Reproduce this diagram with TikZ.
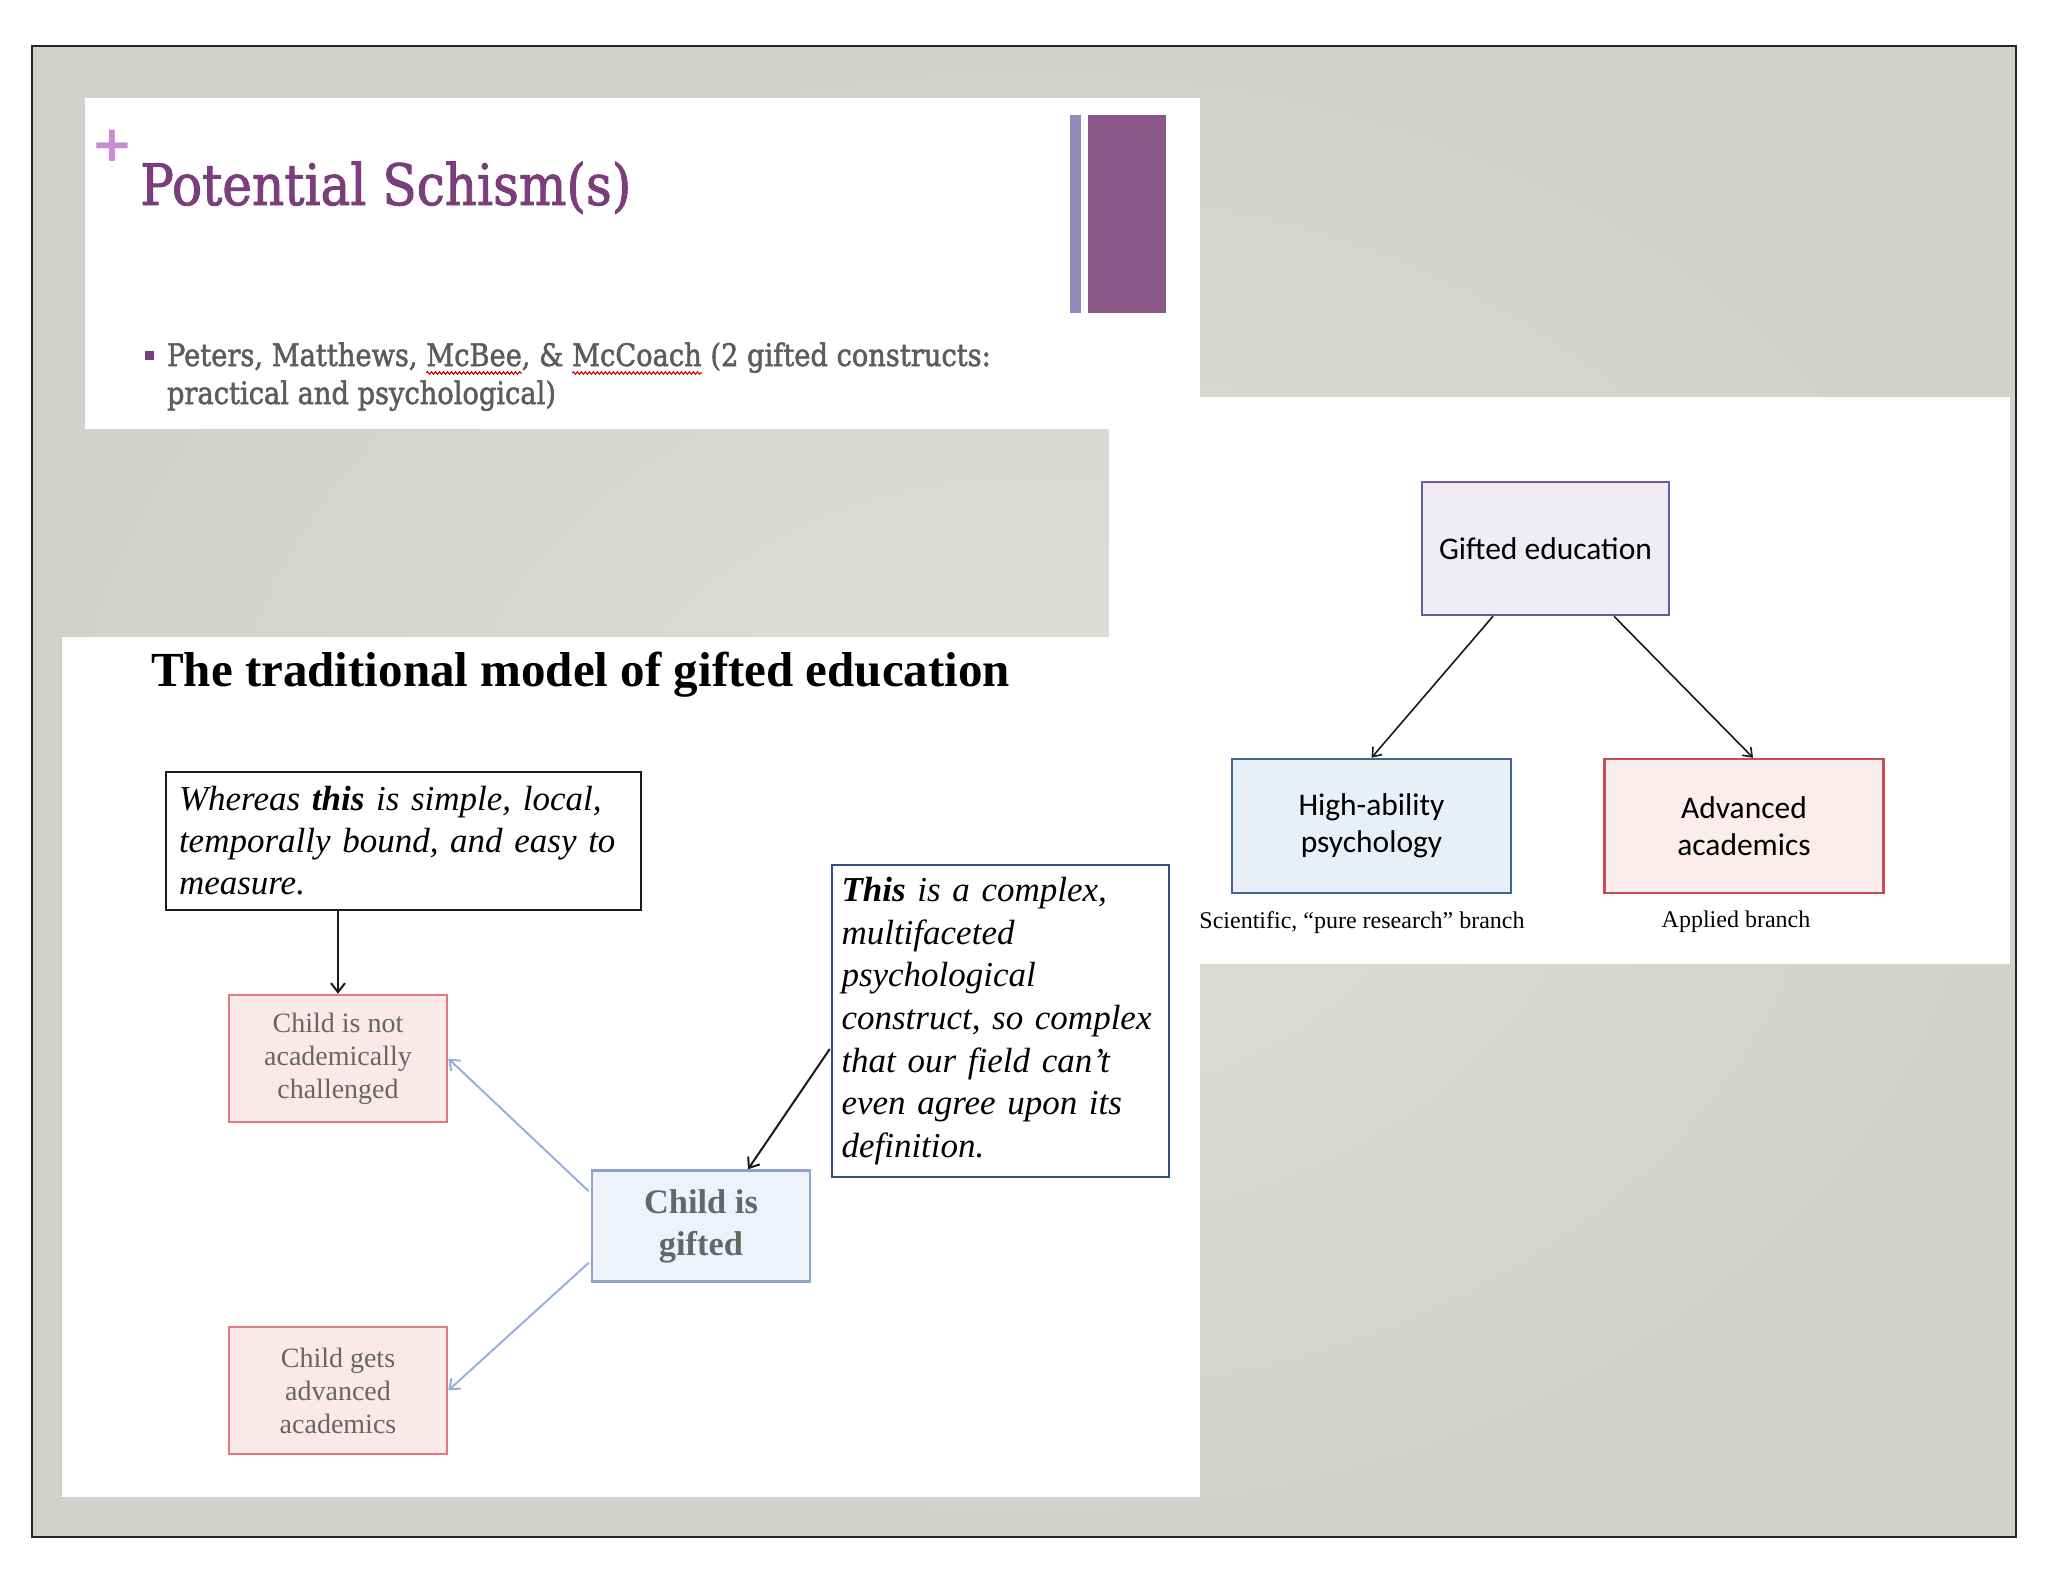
\documentclass[tikz,border=0pt]{standalone}
\usepackage{fontspec}
\setmainfont{Liberation Serif}
\newfontfamily\slabfont[FakeStretch=0.88,FakeBold=1.6]{DejaVu Serif}
\newfontfamily\calibrifont{Carlito}
\newfontfamily\plusfont{DejaVu Sans}
\usetikzlibrary{arrows.meta,decorations.pathmorphing,calc}
\definecolor{bgin}{RGB}{224,222,219}
\definecolor{bgout}{RGB}{211,209,205}
\definecolor{titlepurple}{RGB}{122,62,124}
\definecolor{pluscol}{RGB}{200,140,210}
\definecolor{barthin}{RGB}{146,138,186}
\definecolor{barthick}{RGB}{140,88,138}
\definecolor{bultext}{RGB}{92,92,92}
\definecolor{childtext}{RGB}{102,102,102}
\definecolor{pinkfill}{RGB}{251,233,234}
\definecolor{pinkdraw}{RGB}{226,120,128}
\definecolor{bluefill}{RGB}{238,243,251}
\definecolor{bluedraw}{RGB}{140,165,205}
\definecolor{bluearrow}{RGB}{150,178,218}
\definecolor{tdraw}{RGB}{50,80,130}
\definecolor{gefill}{RGB}{240,236,244}
\definecolor{gedraw}{RGB}{110,90,150}
\definecolor{hafill}{RGB}{233,239,247}
\definecolor{hadraw}{RGB}{65,100,145}
\definecolor{aafill}{RGB}{251,236,237}
\definecolor{aadraw}{RGB}{200,75,85}
\begin{document}
\begin{tikzpicture}[x=1pt,y=-1pt,
  bul/.style={anchor=base west, inner sep=0pt, outer sep=0pt, text=bultext,
    font=\slabfont\fontsize{31}{38}\selectfont},
  boxa/.style={draw, line width=2.5pt, inner ysep=0pt},
  childbox/.style={boxa, draw=pinkdraw, fill=pinkfill, minimum width=218pt, minimum height=127pt,
    align=center, text=childtext, font=\fontsize{28}{33}\selectfont},
  calibox/.style={boxa, minimum width=279pt, minimum height=134pt, align=center,
    font=\calibrifont\fontsize{31.5}{37}\selectfont},
  arr/.style={-{Straight Barb[length=9pt,width=14pt]}, line width=2pt},
  thinarr/.style={-{Straight Barb[length=8pt,width=12pt]}, line width=1.6pt},
  wavy/.style={draw=red!85!black, line width=1.1pt, decorate,
    decoration={snake, segment length=4pt, amplitude=1.3pt}},
  caption/.style={inner sep=0pt, font=\fontsize{24}{28}\selectfont}
]
\useasboundingbox (0,0) rectangle (2048,1582);
\fill[white] (0,0) rectangle (2048,1582);
% textured grey backdrop
\shade[inner color=bgin, outer color=bgout] (32,46) rectangle (2016,1537);
\draw[line width=2.5pt, black!85] (32,46) rectangle (2016,1537);
% white panels
\fill[white] (85,98) rectangle (1200,429);
\fill[white] (62,637) rectangle (1200,1497);
\fill[white] (1109,429) rectangle (1200,637);
\fill[white] (1200,397) rectangle (2010,964);

% ---------- top panel ----------
\node[text=pluscol, inner sep=0pt, font=\plusfont\bfseries\fontsize{50}{56}\selectfont] (plus) at (112,146) {+};
\node[anchor=base west, inner sep=0pt, text=titlepurple,
  font=\slabfont\fontsize{57}{64}\selectfont] (title) at (140,205) {Potential Schism(s)};
\fill[barthin] (1070,115) rectangle (1081,313);
\fill[barthick] (1088,115) rectangle (1166,313);
\fill[titlepurple] (144.5,350.5) rectangle (153.5,359.5);
\node[bul] (b1) at (167,366) {Peters, Matthews,\ \mbox{}};
\node[bul] (b2) at (b1.base east) {McBee};
\node[bul] (b3) at (b2.base east) {,\ \&\ \mbox{}};
\node[bul] (b4) at (b3.base east) {McCoach};
\node[bul] (b5) at (b4.base east) {\mbox{}\ (2 gifted constructs:};
\node[bul] (b6) at (167,404) {practical and psychological)};
\draw[wavy] ($(b2.base west)+(0,7)$) -- ($(b2.base east)+(0,7)$);
\draw[wavy] ($(b4.base west)+(0,7)$) -- ($(b4.base east)+(0,7)$);

% ---------- bottom-left panel ----------
\node[anchor=base west, inner sep=0pt, font=\bfseries\fontsize{49}{56}\selectfont] (tradtitle) at (151,686)
  {The traditional model of gifted education};

\node[boxa, draw=black!90, fill=white, minimum width=475pt, minimum height=138pt,
  text width=449pt, inner xsep=13pt, align=left, font=\itshape\fontsize{35}{42}\selectfont] (W) at (403.5,841)
  {Whereas \textbf{this} is simple, local,\\ temporally bound, and easy to\\ measure.};

\node[childbox] (C1) at (338,1058.5) {Child is not\\ academically\\ challenged};
\node[childbox] (C2) at (338,1390.5) {Child gets\\ advanced\\ academics};

\node[boxa, draw=bluedraw, fill=bluefill, minimum width=218pt, minimum height=111pt, align=center,
  text=childtext, font=\bfseries\fontsize{34.4}{42}\selectfont] (G) at (701,1226) {Child is\\ gifted};

\node[boxa, draw=tdraw, fill=white, minimum width=337pt, minimum height=312pt,
  text width=318pt, inner xsep=9.5pt, align=left, font=\itshape\fontsize{35}{42.7}\selectfont] (T) at (1000.5,1021)
  {\textbf{This} is a complex,\\ multifaceted\\ psychological\\ construct, so complex\\ that our field can’t\\ even agree upon its\\ definition.};

\draw[arr, black!90] (C1.north |- W.south) -- (C1.north);
\draw[arr, draw=bluearrow] ($(G.north west)+(-2,22)$) -- (C1.east);
\draw[arr, draw=bluearrow] ($(G.south west)+(-2,-20)$) -- (C2.east);
\draw[arr, black!90] ($(T.west)+(-1,28)$) -- ($(G.north)+(47,0)$);

% ---------- right panel ----------
\node[boxa, draw=gedraw, fill=gefill, minimum width=247pt, minimum height=133pt,
  font=\calibrifont\fontsize{31.5}{37}\selectfont] (GE) at (1545.5,548.5) {Gifted education};
\node[calibox, draw=hadraw, fill=hafill] (HA) at (1371.5,826) {High-ability\\ psychology};
\node[calibox, draw=aadraw, fill=aafill] (AA) at (1744,826) {Advanced\\ academics};
\draw[thinarr, black!90] ($(GE.south)+(-52.5,0)$) -- (HA.north);
\draw[thinarr, black!90] ($(GE.south)+(68.5,0)$) -- ($(AA.north)+(9,0)$);
\node[caption] (capHA) at (1362,923) {Scientific, “pure research” branch};
\node[caption] (capAA) at (1736,922) {Applied branch};
\end{tikzpicture}
\end{document}
